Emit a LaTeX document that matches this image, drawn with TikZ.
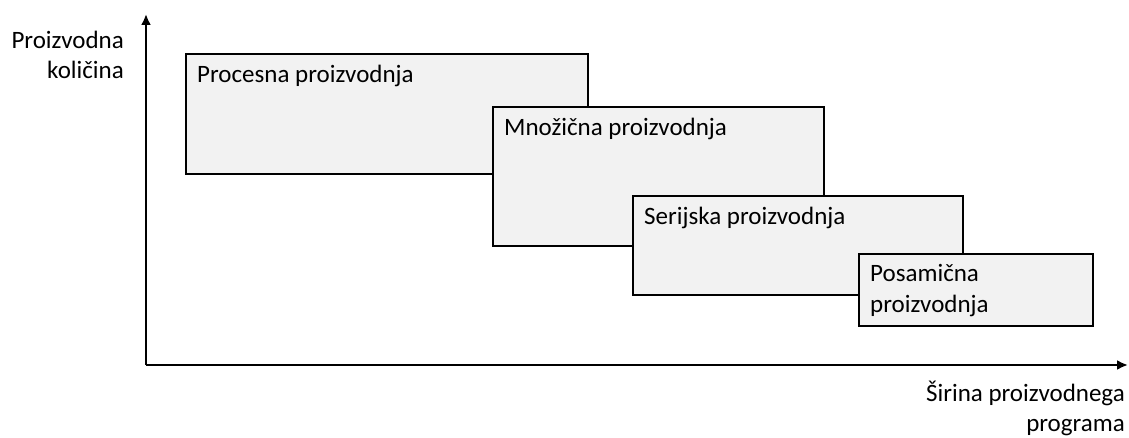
\documentclass[tikz,border=0pt]{standalone}
\usepackage{fontspec}
\setmainfont{Carlito}
\usetikzlibrary{arrows.meta}

\begin{document}
\begin{tikzpicture}[x=1pt,y=-1pt,
    phase/.style={draw=black,line width=1.6pt,fill=black!5,anchor=north west,inner sep=0pt},
    phasetext/.style={anchor=north west,align=left,inner sep=0pt,font=\fontsize{25}{31}\selectfont},
    axislabel/.style={align=right,inner sep=0pt,font=\fontsize{25}{30}\selectfont},
    axis/.style={line width=2.8pt,-{Latex[length=11pt,width=10pt]}}]
    \useasboundingbox (0,0) rectangle (1129,438);

    \coordinate (origin) at (146,365);
    \coordinate (y-end) at (146,14);
    \coordinate (x-end) at (1128,365);
    \draw[axis] (origin) -- (y-end);
    \draw[axis] (origin) -- (x-end);

    \node[axislabel,anchor=north east] (y-label) at (124,31) {Proizvodna\\količina};
    \node[axislabel,anchor=north east] (x-label) at (1125,381) {Širina proizvodnega\\programa};

    \node[phase,minimum width=402pt,minimum height=120pt] (procesna) at (185,53) {};
    \node[phasetext] (procesna-text) at ([xshift=12pt,yshift=-12pt]procesna.north west) {Procesna proizvodnja};
    \node[phase,minimum width=331pt,minimum height=139pt] (mnozicna) at (492,106) {};
    \node[phasetext] (mnozicna-text) at ([xshift=12pt,yshift=-12pt]mnozicna.north west) {Množična proizvodnja};
    \node[phase,minimum width=330pt,minimum height=99pt] (serijska) at (632,195) {};
    \node[phasetext] (serijska-text) at ([xshift=12pt,yshift=-12pt]serijska.north west) {Serijska proizvodnja};
    \node[phase,minimum width=234pt,minimum height=72pt] (posamicna) at (858,253) {};
    \node[phasetext] (posamicna-text) at ([xshift=12pt,yshift=-11pt]posamicna.north west) {Posamična\\proizvodnja};
\end{tikzpicture}
\end{document}
